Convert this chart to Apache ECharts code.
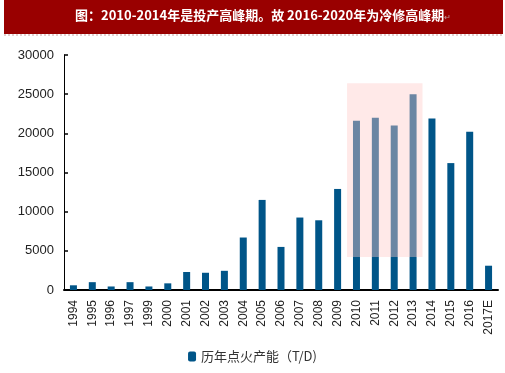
<!DOCTYPE html>
<html><head><meta charset="utf-8">
<style>html,body{margin:0;padding:0;background:#fff}#c{width:505px;height:373px}</style>
<script src="https://cdn.jsdelivr.net/npm/echarts@6/dist/echarts.min.js"></script>
</head><body><div id="c"></div>
<script>
const titleText = '图：2010-2014年是投产高峰期。故 2016-2020年为冷修高峰期';
const categories = ['1994','1995','1996','1997','1999','2000','2001','2002','2003','2004','2005','2006','2007','2008','2009','2010','2011','2012','2013','2014','2015','2016','2017E'];
const capacity = [600,1000,450,1000,450,850,2300,2200,2450,6700,11500,5500,9250,8900,12900,21600,22000,21000,25000,21900,16200,20200,3100];
const seriesName = '历年点火产能（T/D)';
const highlightFrom = '2010', highlightTo = '2013';
const highlightLow = 4200, highlightHigh = 26400;
const yTicks = {min:0, max:30000, interval:5000};

const chart = echarts.init(document.getElementById('c'), null, {renderer:'canvas'});
chart.setOption({
  animation:false,
  graphic:[
    {type:'rect', left:4, top:0, shape:{width:499, height:34}, style:{fill:'#990000'}},
    {type:'line', shape:{x1:4,y1:35,x2:503,y2:35}, style:{stroke:'#c8a0a0', lineWidth:1, lineDash:[2,2]}},
    {type:'text', left:75, top:9, style:{text:'{a|'+titleText+'}{b|↵}',
      rich:{a:{fill:'#fff', fontWeight:'bold', fontSize:13, fontFamily:'"Noto Sans CJK SC"'},
            b:{fill:'#c0a0a0', fontSize:8, fontFamily:'"DejaVu Sans"', verticalAlign:'bottom'}}}}
  ],
  grid:{left:64, right:7, top:55, bottom:83},
  xAxis:[{type:'category', data:categories,
    axisLine:{lineStyle:{color:'#000', width:2}},
    axisTick:{inside:true, length:4, lineStyle:{color:'#333'}},
    axisLabel:{rotate:90, color:'#222', fontSize:12, fontFamily:'Arial', margin:10, interval:0}},
    {type:'value', min:0, max:categories.length, show:false}],
  yAxis:{type:'value', min:yTicks.min, max:yTicks.max, interval:yTicks.interval,
    splitLine:{show:false},
    axisLine:{show:true, lineStyle:{color:'#000', width:1}},
    axisTick:{show:true, inside:true, length:4, lineStyle:{color:'#000', width:1.5}},
    axisLabel:{color:'#222', fontSize:13, fontFamily:'Arial', margin:10, formatter:v=>String(v)}},
  legend:{bottom:5, left:'center', itemWidth:8, itemHeight:10, itemGap:4,
    textStyle:{fontSize:13, color:'#333', fontFamily:'"Noto Sans CJK SC"'}, data:[seriesName]},
  series:[
    {type:'bar', name:seriesName, data:capacity, barWidth:7, itemStyle:{color:'#005588'}, z:2},
    {type:'line', xAxisIndex:1, data:[], z:10, silent:true,
      markArea:{silent:true, z:10, itemStyle:{color:'rgba(255,203,201,0.42)'},
        data:[[{xAxis:categories.indexOf(highlightFrom), yAxis:highlightLow},
               {xAxis:categories.indexOf(highlightTo)+1, yAxis:highlightHigh}]]}}
  ]
});
</script></body></html>
